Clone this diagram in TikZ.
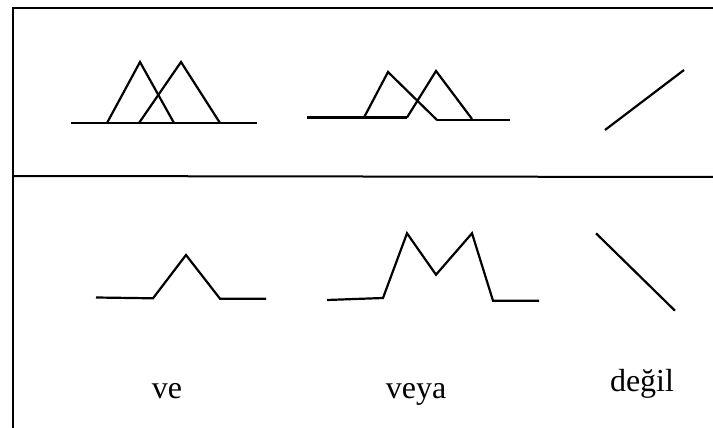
\documentclass[tikz,border=0pt]{standalone}
\usepackage{fontspec}
\setmainfont{Liberation Serif}
\begin{document}
\begin{tikzpicture}[x=1pt,y=-1pt,
  frame/.style={line width=2pt,black},
  curve/.style={line width=2.2pt,black,line join=miter},
  lbl/.style={anchor=base,inner sep=0pt,font=\fontsize{32}{38}\selectfont}]
\useasboundingbox (0,0) rectangle (713,428);
% frame
\draw[frame] (12,8) -- (713,8);
\draw[frame] (13,8) -- (13,428);
\draw[frame] (13,176) -- (713,177);
% top row: ve inputs
\draw[curve] (71,123) -- (257,123);
\draw[curve] (107,123) -- (140,62) -- (174,123);
\draw[curve] (139,123) -- (181,62) -- (220,123);
% top row: veya inputs
\draw[curve] (307,117.5) -- (407,117.5);
\draw[curve] (437,120) -- (510,120);
\draw[curve] (364,117.5) -- (388,72) -- (437,120);
\draw[curve] (407,117.5) -- (436,71) -- (472,119);
% top row: degil input
\draw[curve] (605,130) -- (684,70);
% bottom row: ve result
\draw[curve] (96,297.5) -- (153,298.3) -- (186,255) -- (220,298.7) -- (266,298.7);
% bottom row: veya result
\draw[curve] (327,300) -- (383,298) -- (407,233.3) -- (436,274.7) -- (472,233.3) -- (493,300.7) -- (539,300.7);
% bottom row: degil result
\draw[curve] (596,233.3) -- (675,310.7);
% labels
\node[lbl] (ve) at (167,398) {ve};
\node[lbl] (veya) at (416,398) {veya};
\node[lbl] (degil) at (642,391) {değil};
\end{tikzpicture}
\end{document}
